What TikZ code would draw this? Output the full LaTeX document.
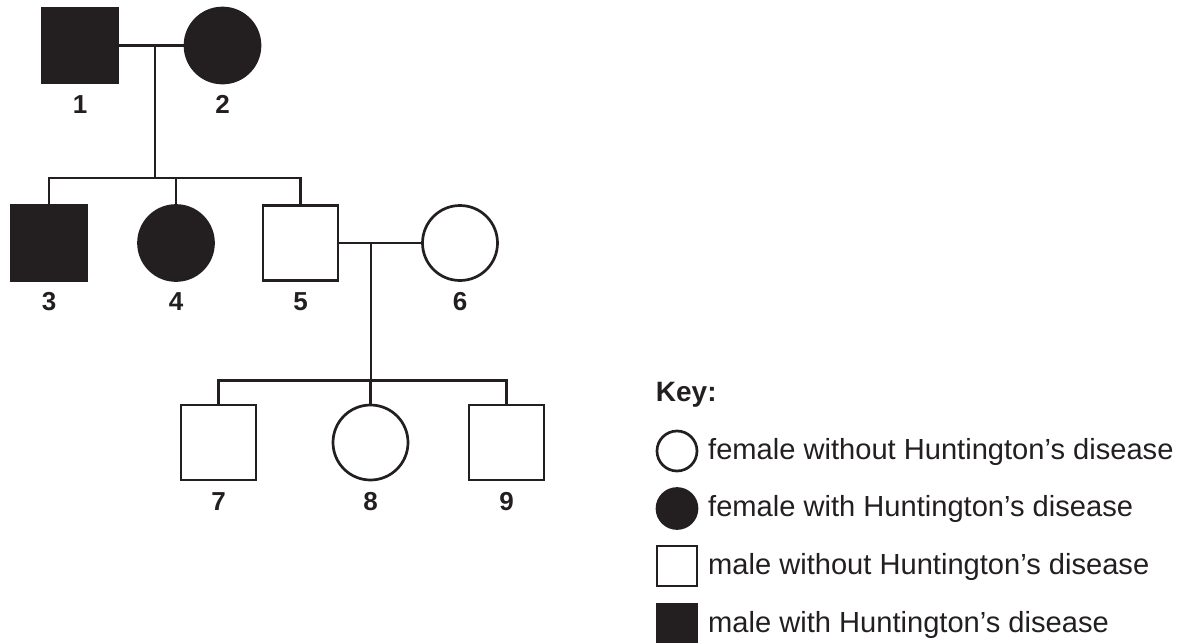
\documentclass[tikz,border=0pt]{standalone}
\usepackage{fontspec}
\setmainfont{Liberation Sans}
\definecolor{ink}{RGB}{35,31,32}
\begin{document}
\begin{tikzpicture}[x=1pt,y=-1pt,
  ln/.style={draw=ink,line width=2.7pt},
  male/.style={ln,rectangle,minimum size=75pt,inner sep=0pt},
  female/.style={ln,circle,minimum size=75pt,inner sep=0pt},
  kmale/.style={ln,rectangle,minimum size=40pt,inner sep=0pt},
  kfemale/.style={ln,circle,minimum size=40pt,inner sep=0pt},
  aff/.style={fill=ink},
  lab/.style={anchor=base,inner sep=0pt,text=ink,font=\fontsize{26}{30}\selectfont\bfseries},
  keytxt/.style={anchor=base west,inner sep=0pt,text=ink,font=\fontsize{29.1}{33}\selectfont},
  keyhead/.style={anchor=base west,inner sep=0pt,text=ink,font=\fontsize{28}{32}\selectfont\bfseries}]
\useasboundingbox (0,0) rectangle (1187,643);
% generation I
\node[male,aff] (p1) at (80,45.5) {};
\node[female,aff] (p2) at (222.5,45.5) {};
% generation II
\node[male,aff] (p3) at (49,243) {};
\node[female,aff] (p4) at (176,243) {};
\node[male] (p5) at (300.5,243) {};
\node[female] (p6) at (460,243) {};
% generation III
\node[male] (p7) at (218.5,442.5) {};
\node[female] (p8) at (370.5,442.5) {};
\node[male] (p9) at (506.5,442.5) {};
% labels
\node[lab] (l1) at (80,113.3) {1};
\node[lab] (l2) at (222.5,113.3) {2};
\node[lab] (l3) at (49,310) {3};
\node[lab] (l4) at (176,310) {4};
\node[lab] (l5) at (300.5,310) {5};
\node[lab] (l6) at (460,310) {6};
\node[lab] (l7) at (218.5,510) {7};
\node[lab] (l8) at (370.5,510) {8};
\node[lab] (l9) at (506.5,510) {9};
% connectors
\coordinate (m1) at (155,45.5);
\coordinate (s1) at (155,178);
\coordinate (m2) at (371,243);
\coordinate (s2) at (371,380.5);
\draw[ln] (p1.east) -- (p2.west);
\draw[ln] (m1) -- (s1);
\draw[ln] (p3.north) |- (p5.north |- s1) -- (p5.north);
\draw[ln] (p4.north) -- (p4.north |- s1);
\draw[ln] (p5.east) -- (p6.west);
\draw[ln] (m2) -- (s2);
\draw[ln] (p7.north) |- (p9.north |- s2) -- (p9.north);
\draw[ln] (p8.north) -- (p8.north |- s2);
% key
\node[keyhead] (kh) at (655.7,401.7) {Key:};
\node[kfemale] (k1) at (677,451) {};
\node[kfemale,aff] (k2) at (677,508.5) {};
\node[kmale] (k3) at (677,566) {};
\node[kmale,aff] (k4) at (677,624) {};
\node[keytxt] (t1) at (708,459.3) {female without Huntington’s disease};
\node[keytxt] (t2) at (708,516.8) {female with Huntington’s disease};
\node[keytxt] (t3) at (708,574.3) {male without Huntington’s disease};
\node[keytxt] (t4) at (708,632.3) {male with Huntington’s disease};
\end{tikzpicture}
\end{document}
